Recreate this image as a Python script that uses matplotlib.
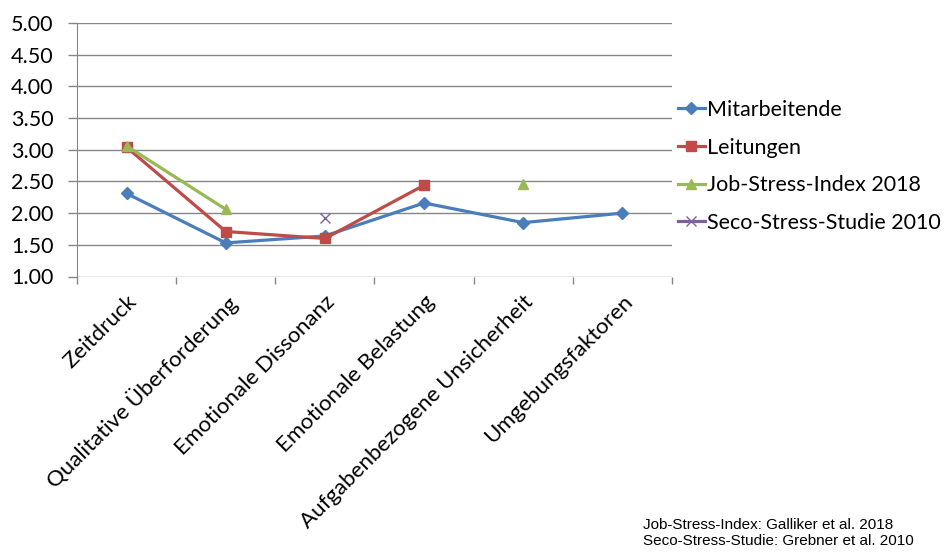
import numpy as np
import matplotlib
matplotlib.use("Agg")
import matplotlib.pyplot as plt
from matplotlib.transforms import ScaledTranslation

categories = ["Zeitdruck", "Qualitative Überforderung", "Emotionale Dissonanz",
              "Emotionale Belastung", "Aufgabenbezogene Unsicherheit", "Umgebungsfaktoren"]
mitarbeitende = [2.31, 1.53, 1.64, 2.16, 1.85, 2.00]
leitungen = [3.04, 1.71, 1.60, 2.44, np.nan, np.nan]
jsi_2018 = [3.06, 2.06, np.nan, np.nan, 2.46, np.nan]
seco_2010 = [np.nan, np.nan, 1.92, np.nan, np.nan, np.nan]
yticks = [1.0, 1.5, 2.0, 2.5, 3.0, 3.5, 4.0, 4.5, 5.0]

FONT = "Lato"
GRID = "#868686"
fig = plt.figure(figsize=(9.48, 5.52), dpi=100)
ax = fig.add_axes([77 / 948, 1 - 276.5 / 552, (672 - 77) / 948, 253.5 / 552])

x = np.arange(len(categories))
ax.plot(x, mitarbeitende, color="#4A7EBB", lw=2.3, marker="D", ms=6, label="Mitarbeitende")
ax.plot(x, leitungen, color="#BE4B48", lw=2.3, marker="s", ms=7, label="Leitungen")
ax.plot(x, jsi_2018, color="#98B954", lw=2.3, marker="^", ms=7.5, label="Job-Stress-Index 2018")
ax.plot(x, seco_2010, color="#7D60A0", lw=2.3, marker="x", ms=7, mew=1.0, label="Seco-Stress-Studie 2010")

ax.set_xlim(-0.5, len(categories) - 0.5)
ax.set_ylim(1.0, 5.0)
ax.set_yticks(yticks)
ax.set_yticklabels([f"{v:.2f}" for v in yticks], fontsize=15.5, family=FONT)
ax.yaxis.grid(True, color=GRID, lw=1)
ax.set_axisbelow(True)
for s in ["top", "right", "bottom"]:
    ax.spines[s].set_visible(False)
ax.spines["left"].set_color(GRID)
ax.tick_params(axis="y", length=6.5, width=1, color=GRID, direction="out", pad=10.5)

ax.set_xticks(np.arange(len(categories) + 1) - 0.5, minor=True)
ax.tick_params(axis="x", which="minor", length=5, width=1, color=GRID, direction="out")
ax.set_xticks(x)
ax.set_xticklabels(categories, rotation=45, ha="right", rotation_mode="anchor",
                   fontsize=16, family=FONT)
ax.tick_params(axis="x", which="major", length=0, pad=11)
offset = ScaledTranslation(0, 0, fig.dpi_scale_trans)
for lbl in ax.get_xticklabels():
    lbl.set_transform(lbl.get_transform() + offset)

leg = fig.legend(loc="upper left", bbox_to_anchor=(678 / 948, 1 - 100 / 552), frameon=False,
                 prop={"family": FONT, "size": 15.5}, handlelength=1.25, handletextpad=0.1,
                 labelspacing=0.82, borderaxespad=0, borderpad=0)

fig.text(643 / 948, 1 - 548 / 552, "Job-Stress-Index: Galliker et al. 2018\nSeco-Stress-Studie: Grebner et al. 2010",
         family="Liberation Sans", fontsize=11, va="bottom", ha="left", linespacing=1.15)

fig.savefig("out.png", dpi=100)
